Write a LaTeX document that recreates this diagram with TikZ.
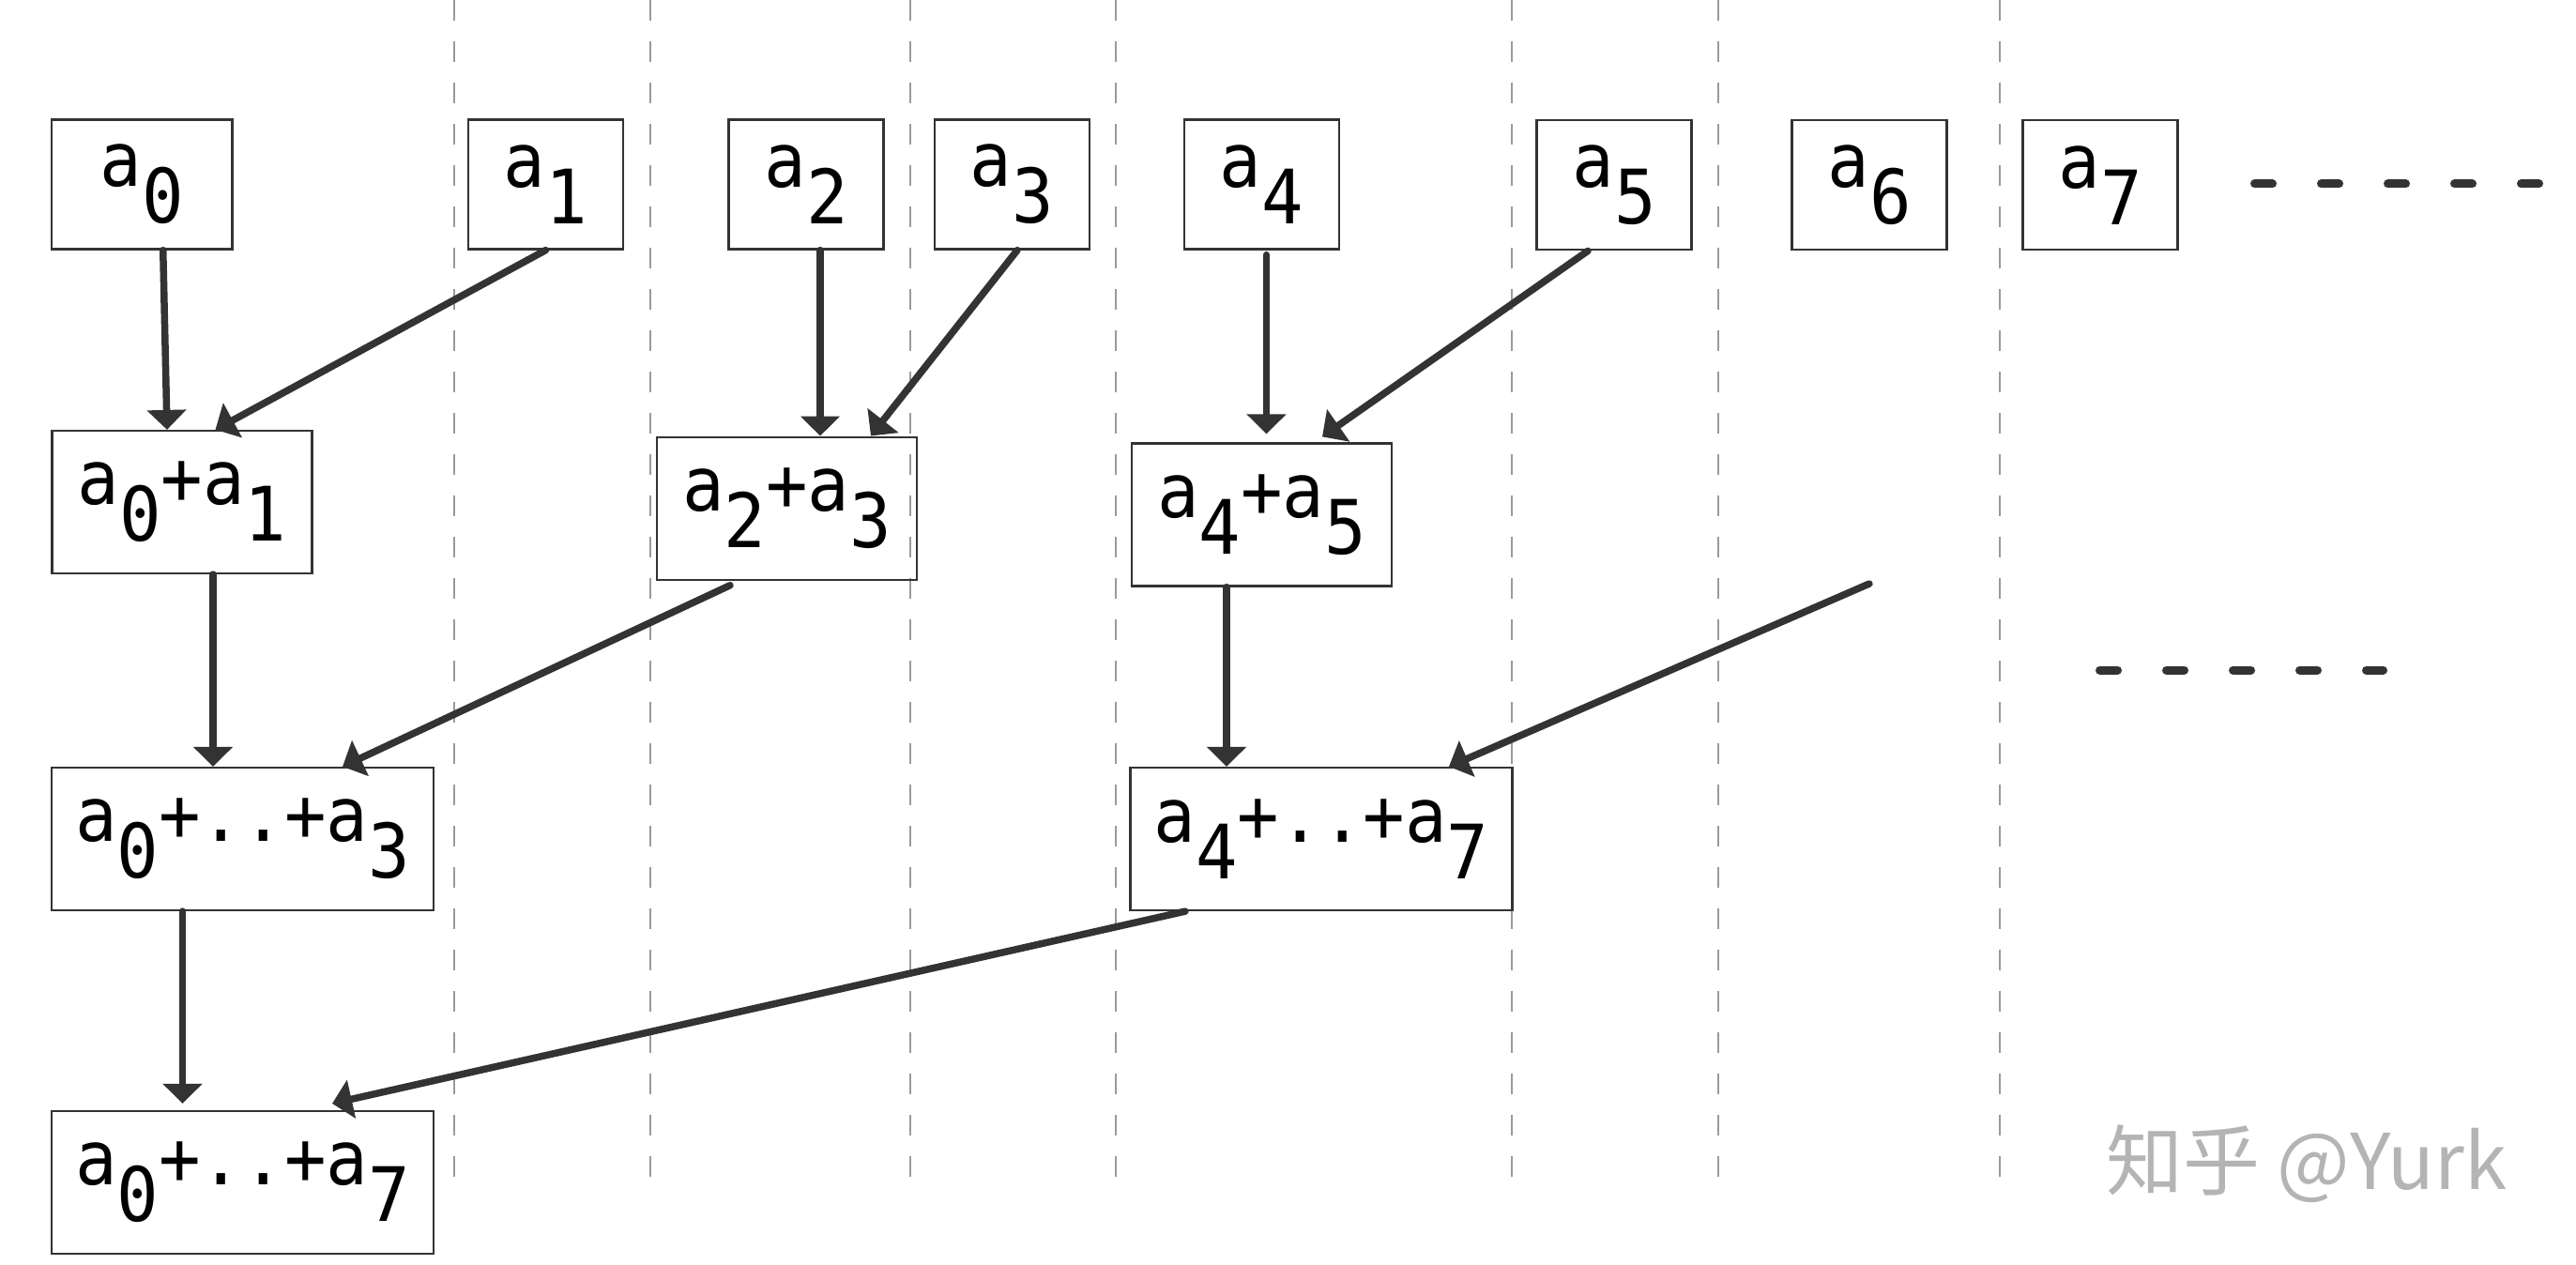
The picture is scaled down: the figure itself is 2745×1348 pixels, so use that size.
\documentclass[tikz,border=0pt]{standalone}
\usepackage{fontspec}
\usetikzlibrary{arrows.meta}
\newfontfamily\monofont[FakeStretch=0.925]{DejaVu Sans Mono}
\newfontfamily\cjkfont{Noto Sans CJK SC}
\definecolor{ink}{HTML}{333333}
\definecolor{rule}{HTML}{9A9A9A}
\definecolor{wmgray}{HTML}{B4B4B4}
\newcommand{\lowsub}[1]{\raisebox{-39pt}{#1}}
\tikzset{
	leaf/.style={draw=ink, line width=2.2pt, inner sep=0pt, minimum width=165pt, minimum height=138pt, font=\monofont\fontsize{80pt}{96pt}\selectfont},
	pair/.style={leaf, minimum width=277pt, minimum height=152pt},
	quad/.style={leaf, minimum width=407pt, minimum height=152pt},
	link/.style={draw=ink, line width=7.5pt, line cap=round, -{Triangle[width=41pt,length=21pt]}},
	lane/.style={draw=rule, line width=2pt, dash pattern=on 22pt off 22pt},
	trail/.style={draw=ink, line width=9pt, line cap=round, dash pattern=on 19pt off 52pt},
	wmark/.style={text=wmgray, font=\cjkfont\fontsize{82pt}{98pt}\selectfont}
}
\begin{document}
\begin{tikzpicture}[x=1pt, y=-1pt]
	\useasboundingbox (0,0) rectangle (2745,1348);
	\foreach \x in {484,693,970,1189,1611,1831,2131}
		\draw [lane] (\x,0) -- (\x,1261);
	\node [leaf, minimum width=192.5pt] (a0) at (151.25,196.5) {a\lowsub{0}};
	\node [leaf] (a1) at (581.5,196.5) {a\lowsub{1}};
	\node [leaf] (a2) at (859,196.5) {a\lowsub{2}};
	\node [leaf] (a3) at (1078.5,196.5) {a\lowsub{3}};
	\node [leaf] (a4) at (1344.5,196.5) {a\lowsub{4}};
	\node [leaf] (a5) at (1720,197.3) {a\lowsub{5}};
	\node [leaf] (a6) at (1992,197.3) {a\lowsub{6}};
	\node [leaf] (a7) at (2238,197.3) {a\lowsub{7}};
	\node [pair] (s01) at (194,535) {a\lowsub{0}+a\lowsub{1}};
	\node [pair] (s23) at (838.5,541.6) {a\lowsub{2}+a\lowsub{3}};
	\node [pair] (s45) at (1344.5,548.5) {a\lowsub{4}+a\lowsub{5}};
	\node [quad] (s03) at (258.5,894) {a\lowsub{0}+..+a\lowsub{3}};
	\node [quad] (s47) at (1408,894) {a\lowsub{4}+..+a\lowsub{7}};
	\node [quad] (s07) at (258.5,1260) {a\lowsub{0}+..+a\lowsub{7}};
	\coordinate (open) at (1992,622);
	\draw [link] ([xshift=22.5pt]a0.south) -- ([xshift=-16pt]s01.north);
	\draw [link] (a1.south) -- ([xshift=35.5pt]s01.north);
	\draw [link] ([xshift=15pt]a2.south) -- ([xshift=35.5pt]s23.north);
	\draw [link] ([xshift=5.5pt]a3.south) -- ([xshift=89.5pt]s23.north);
	\draw [link] ([xshift=5pt,yshift=-5pt]a4.south) -- ([xshift=5pt,yshift=9pt]s45.north);
	\draw [link] ([xshift=-28pt]a5.south) -- ([xshift=64.5pt,yshift=6pt]s45.north);
	\draw [link] ([xshift=33pt]s01.south) -- ([xshift=-31.5pt]s03.north);
	\draw [link] ([xshift=-60.5pt,yshift=-5pt]s23.south) -- ([xshift=106.5pt]s03.north);
	\draw [link] ([xshift=-37.5pt]s45.south) -- ([xshift=-101pt]s47.north);
	\draw [link] (open) -- ([xshift=136pt]s47.north);
	\draw [link] ([xshift=-64pt]s03.south) -- ([xshift=-64pt,yshift=7pt]s07.north);
	\draw [link] ([xshift=-145pt]s47.south) -- ([xshift=95.5pt,yshift=7pt]s07.north);
	\draw [trail] (2402.5,196) -- (2706.5,196);
	\draw [trail] (2237.5,714) -- (2539.5,714);
	\node [wmark] (credit) at (2458,1240) {知乎 @Yurk};
\end{tikzpicture}
\end{document}
